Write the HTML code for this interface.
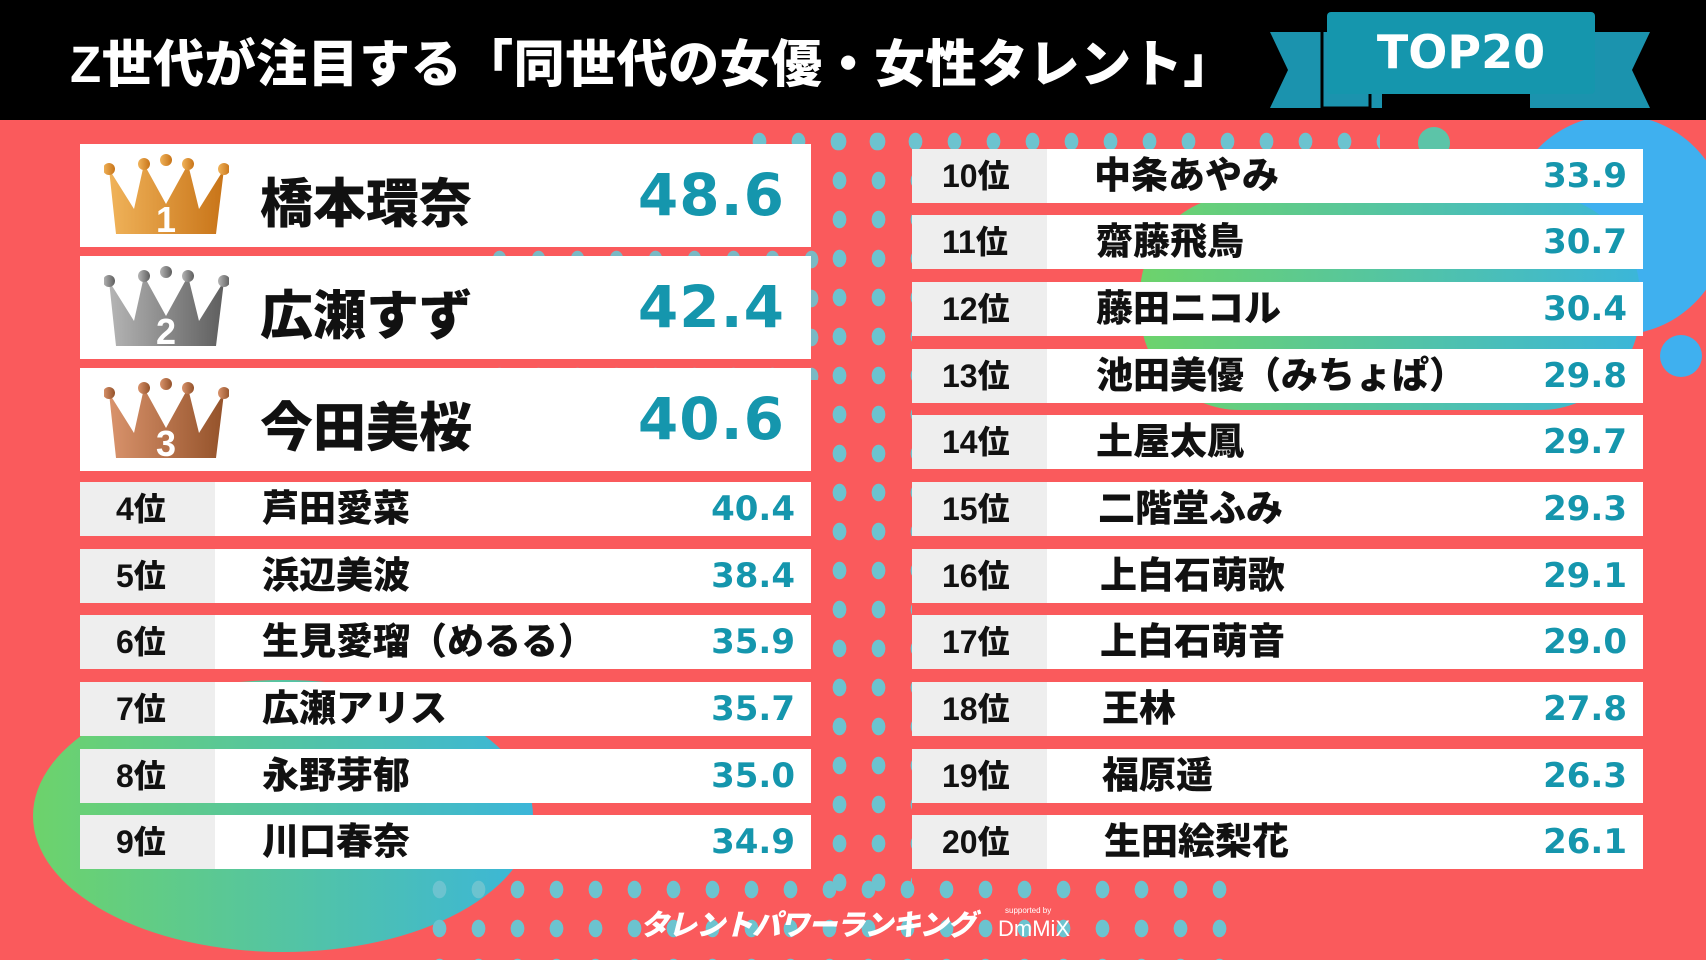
<!DOCTYPE html>
<html><head><meta charset="utf-8"><style>
*{margin:0;padding:0;box-sizing:border-box}
body{width:1706px;height:960px;overflow:hidden;background:#fa5a5c;position:relative;font-family:"Liberation Sans","Noto Sans CJK JP",sans-serif;font-weight:900}
.abs{position:absolute}
.hdr{left:0;top:0;width:1706px;height:120px;background:#000}
.title{left:70px;top:23px;color:#fff;font-size:51px;font-weight:900;white-space:nowrap;letter-spacing:0.5px}
.dots{background-image:radial-gradient(ellipse 7px 9px at center,#6cc3cf 95%,transparent 100%);background-size:39px 39px}
.box{background:#fff}
.big .name{position:absolute;left:180px;top:18px;font-size:53px;color:#111}
.big .sc{position:absolute;right:26px;top:17px;font-size:58px;color:#1596ad;font-family:"DejaVu Sans","Liberation Sans",sans-serif;font-weight:bold;letter-spacing:1px}
.row .rk{position:absolute;left:0;top:0;width:135px;height:100%;background:#eeeeee;font-size:32px;color:#111;padding-left:36px;line-height:54px}
.row .name{position:absolute;left:182px;top:0;line-height:54px;font-size:37px;color:#111;white-space:nowrap}
.row .sc{position:absolute;right:16px;top:0;line-height:54px;font-size:34px;color:#1596ad;font-family:"DejaVu Sans","Liberation Sans",sans-serif;font-weight:bold;letter-spacing:0px}
.crown{position:absolute;left:24px;top:10px}
</style></head><body>
<div class="abs" style="left:33px;top:680px;width:500px;height:272px;border-radius:50%;background:linear-gradient(90deg,#6dd36b,#3bb6d9)"></div>
<div class="abs" style="left:1507px;top:115px;width:220px;height:220px;border-radius:50%;background:#3fb0ef"></div>
<div class="abs" style="left:1660px;top:335px;width:42px;height:42px;border-radius:50%;background:#3fb0ef"></div>
<div class="abs" style="left:1140px;top:195px;width:500px;height:215px;border-radius:100px;background:linear-gradient(90deg,#6dd36b,#3bb6d9)"></div>
<div class="abs" style="left:1418px;top:127px;width:32px;height:32px;border-radius:50%;background:#5cc4a8"></div>
<div class="abs dots" style="left:740px;top:122px;width:640px;height:30px"></div>
<div class="abs dots" style="left:820px;top:122px;width:92px;height:780px"></div>
<div class="abs dots" style="left:420px;top:870px;width:830px;height:90px"></div>
<div class="abs dots" style="left:480px;top:240px;width:340px;height:140px;opacity:.9"></div>
<div class="abs hdr"></div>
<div class="abs title">Z世代が注目する「同世代の女優・女性タレント」</div>
<svg class="abs" style="left:1260px;top:8px" width="400" height="105">
<polygon points="10,24 122,24 122,100 10,100 28,62" fill="#1b93ae"/>
<polygon points="390,24 270,24 270,100 390,100 372,62" fill="#1b93ae"/>
<rect x="67" y="4" width="268" height="82" rx="4" fill="#1596ad"/>
<path d="M62,24 V100 H110 V86" fill="none" stroke="#000" stroke-width="3"/>
<text x="201" y="60" text-anchor="middle" fill="#fff" font-size="46" font-weight="bold" font-family="DejaVu Sans,sans-serif">TOP20</text>
</svg>
<div class="abs box big" style="left:80px;top:144px;width:731px;height:103px"><svg class="crown" width="125" height="85" viewBox="0 0 125 85"><defs><linearGradient id="g1"><stop offset="0" stop-color="#f0b35a"/><stop offset="1" stop-color="#c87418"/></linearGradient></defs><polygon points="5,15 30,55 40,10 62,50 84,10 95,55 120,15 112,80 12,80" fill="url(#g1)"/><circle cx="5" cy="15" r="6" fill="url(#g1)"/><circle cx="40" cy="10" r="6" fill="url(#g1)"/><circle cx="62" cy="6" r="6" fill="url(#g1)"/><circle cx="84" cy="10" r="6" fill="url(#g1)"/><circle cx="120" cy="15" r="6" fill="url(#g1)"/><text x="62" y="78" text-anchor="middle" fill="#fff" font-size="36" font-weight="bold" font-family="Liberation Sans">1</text></svg><div class="name">橋本環奈</div><div class="sc">48.6</div></div>
<div class="abs box big" style="left:80px;top:256px;width:731px;height:103px"><svg class="crown" width="125" height="85" viewBox="0 0 125 85"><defs><linearGradient id="g2"><stop offset="0" stop-color="#b5b5b5"/><stop offset="1" stop-color="#5e5e5e"/></linearGradient></defs><polygon points="5,15 30,55 40,10 62,50 84,10 95,55 120,15 112,80 12,80" fill="url(#g2)"/><circle cx="5" cy="15" r="6" fill="url(#g2)"/><circle cx="40" cy="10" r="6" fill="url(#g2)"/><circle cx="62" cy="6" r="6" fill="url(#g2)"/><circle cx="84" cy="10" r="6" fill="url(#g2)"/><circle cx="120" cy="15" r="6" fill="url(#g2)"/><text x="62" y="78" text-anchor="middle" fill="#fff" font-size="36" font-weight="bold" font-family="Liberation Sans">2</text></svg><div class="name">広瀬すず</div><div class="sc">42.4</div></div>
<div class="abs box big" style="left:80px;top:368px;width:731px;height:103px"><svg class="crown" width="125" height="85" viewBox="0 0 125 85"><defs><linearGradient id="g3"><stop offset="0" stop-color="#d9936c"/><stop offset="1" stop-color="#94522a"/></linearGradient></defs><polygon points="5,15 30,55 40,10 62,50 84,10 95,55 120,15 112,80 12,80" fill="url(#g3)"/><circle cx="5" cy="15" r="6" fill="url(#g3)"/><circle cx="40" cy="10" r="6" fill="url(#g3)"/><circle cx="62" cy="6" r="6" fill="url(#g3)"/><circle cx="84" cy="10" r="6" fill="url(#g3)"/><circle cx="120" cy="15" r="6" fill="url(#g3)"/><text x="62" y="78" text-anchor="middle" fill="#fff" font-size="36" font-weight="bold" font-family="Liberation Sans">3</text></svg><div class="name">今田美桜</div><div class="sc">40.6</div></div>

<div class="abs box row" style="left:80px;top:482px;width:731px;height:54px"><div class="rk">4位</div><div class="name">芦田愛菜</div><div class="sc">40.4</div></div>
<div class="abs box row" style="left:80px;top:549px;width:731px;height:54px"><div class="rk">5位</div><div class="name">浜辺美波</div><div class="sc">38.4</div></div>
<div class="abs box row" style="left:80px;top:615px;width:731px;height:54px"><div class="rk">6位</div><div class="name">生見愛瑠（めるる）</div><div class="sc">35.9</div></div>
<div class="abs box row" style="left:80px;top:682px;width:731px;height:54px"><div class="rk">7位</div><div class="name">広瀬アリス</div><div class="sc">35.7</div></div>
<div class="abs box row" style="left:80px;top:749px;width:731px;height:54px"><div class="rk">8位</div><div class="name">永野芽郁</div><div class="sc">35.0</div></div>
<div class="abs box row" style="left:80px;top:815px;width:731px;height:54px"><div class="rk">9位</div><div class="name">川口春奈</div><div class="sc">34.9</div></div>

<div class="abs box row" style="left:912px;top:149px;width:731px;height:54px"><div class="rk" style="padding-left:30px">10位</div><div class="name" style="left:182px">中条あやみ</div><div class="sc">33.9</div></div>
<div class="abs box row" style="left:912px;top:215px;width:731px;height:54px"><div class="rk" style="padding-left:30px">11位</div><div class="name" style="left:184px">齋藤飛鳥</div><div class="sc">30.7</div></div>
<div class="abs box row" style="left:912px;top:282px;width:731px;height:54px"><div class="rk" style="padding-left:30px">12位</div><div class="name" style="left:184px">藤田ニコル</div><div class="sc">30.4</div></div>
<div class="abs box row" style="left:912px;top:349px;width:731px;height:54px"><div class="rk" style="padding-left:30px">13位</div><div class="name" style="left:184px">池田美優（みちょぱ）</div><div class="sc">29.8</div></div>
<div class="abs box row" style="left:912px;top:415px;width:731px;height:54px"><div class="rk" style="padding-left:30px">14位</div><div class="name" style="left:184px">土屋太鳳</div><div class="sc">29.7</div></div>
<div class="abs box row" style="left:912px;top:482px;width:731px;height:54px"><div class="rk" style="padding-left:30px">15位</div><div class="name" style="left:186px">二階堂ふみ</div><div class="sc">29.3</div></div>
<div class="abs box row" style="left:912px;top:549px;width:731px;height:54px"><div class="rk" style="padding-left:30px">16位</div><div class="name" style="left:188px">上白石萌歌</div><div class="sc">29.1</div></div>
<div class="abs box row" style="left:912px;top:615px;width:731px;height:54px"><div class="rk" style="padding-left:30px">17位</div><div class="name" style="left:188px">上白石萌音</div><div class="sc">29.0</div></div>
<div class="abs box row" style="left:912px;top:682px;width:731px;height:54px"><div class="rk" style="padding-left:30px">18位</div><div class="name" style="left:190px">王林</div><div class="sc">27.8</div></div>
<div class="abs box row" style="left:912px;top:749px;width:731px;height:54px"><div class="rk" style="padding-left:30px">19位</div><div class="name" style="left:190px">福原遥</div><div class="sc">26.3</div></div>
<div class="abs box row" style="left:912px;top:815px;width:731px;height:54px"><div class="rk" style="padding-left:30px">20位</div><div class="name" style="left:192px">生田絵梨花</div><div class="sc">26.1</div></div>

<div class="abs" style="left:640px;top:902px;color:#fff;font-size:29px;font-style:italic;white-space:nowrap;letter-spacing:-1px">タレントパワーランキング</div>
<div class="abs" style="left:1005px;top:906px;color:#fff;font-size:8px;font-weight:normal">supported by</div>
<div class="abs" style="left:998px;top:916px;color:#fff;font-size:22px;font-weight:normal">DmMiX</div>
</body></html>
